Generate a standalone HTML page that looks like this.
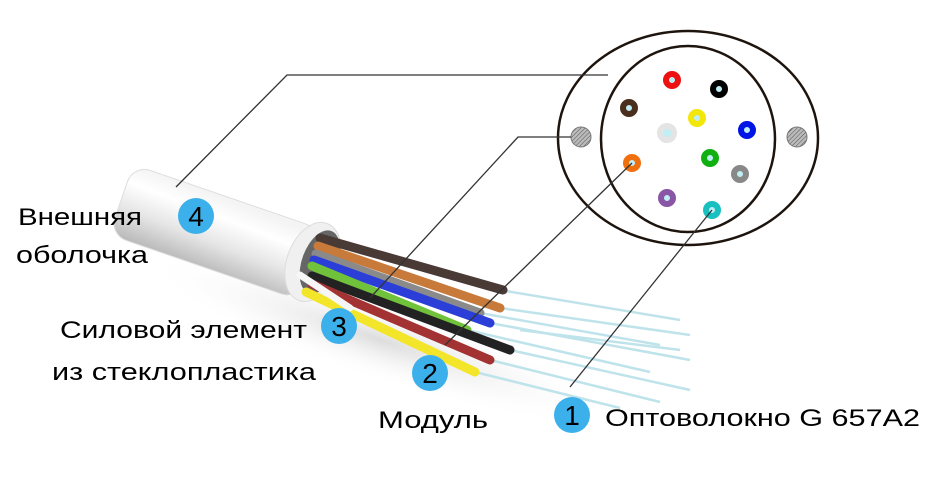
<!DOCTYPE html>
<html><head><meta charset="utf-8"><style>
html,body{margin:0;padding:0;background:#fff;}
svg{display:block;}
text{font-family:"Liberation Sans","Noto Sans CJK SC",sans-serif;fill:#000;}
</style></head><body>
<svg width="945" height="479" viewBox="0 0 945 479">
<defs>
<linearGradient id="tube" x1="0.1" y1="0" x2="0" y2="1">
<stop offset="0" stop-color="#f4f4f4"/><stop offset="0.25" stop-color="#ffffff"/><stop offset="0.6" stop-color="#e6e6e6"/><stop offset="1" stop-color="#b8b8b8"/>
</linearGradient>
<radialGradient id="sh" cx="0.5" cy="0.5" r="0.5"><stop offset="0" stop-color="#ddd"/><stop offset="1" stop-color="#fff" stop-opacity="0"/></radialGradient>
<pattern id="hatch" width="3" height="3" patternUnits="userSpaceOnUse" patternTransform="rotate(45)"><rect width="3" height="3" fill="#bbb"/><line x1="0" y1="0" x2="0" y2="3" stroke="#555" stroke-width="1"/></pattern>
</defs>
<ellipse cx="380" cy="340" rx="250" ry="40" fill="url(#sh)" transform="rotate(18 380 340)"/>
<g stroke="#bfe3ea" stroke-width="2.5">
<line x1="500" y1="290" x2="680" y2="320"/><line x1="500" y1="308" x2="690" y2="335"/>
<line x1="480" y1="313" x2="660" y2="345"/><line x1="490" y1="323" x2="690" y2="360"/>
<line x1="467" y1="330" x2="650" y2="372"/><line x1="510" y1="350" x2="690" y2="390"/>
<line x1="490" y1="360" x2="660" y2="402"/><line x1="475" y1="372" x2="620" y2="408"/>
<line x1="520" y1="330" x2="680" y2="350"/>
</g>
<g transform="rotate(19 230 237)">
<rect x="115" y="200" width="200" height="74" rx="18" fill="url(#tube)" stroke="#ddd" stroke-width="1"/>
</g>
<ellipse cx="313" cy="262" rx="26" ry="41" transform="rotate(20 313 262)" fill="#f0f0f0" stroke="#ddd"/>
<ellipse cx="320" cy="262" rx="18" ry="33" transform="rotate(20 320 262)" fill="#666"/>
<g stroke-linecap="round" stroke-width="9">
<line x1="320" y1="238" x2="503" y2="290" stroke="#4a3a36"/>
<line x1="318" y1="246" x2="500" y2="308" stroke="#c87a3a"/>
<line x1="316" y1="254" x2="480" y2="313" stroke="#8a8a8a"/>
<line x1="314" y1="260" x2="490" y2="323" stroke="#2b3fd8"/>
<line x1="312" y1="266" x2="467" y2="330" stroke="#6fc23a"/>
<line x1="312" y1="276" x2="510" y2="350" stroke="#222"/>
<line x1="312" y1="284" x2="490" y2="360" stroke="#a33232"/>
<line x1="306" y1="292" x2="475" y2="372" stroke="#f3e52a"/>
<line x1="300" y1="275" x2="350" y2="308" stroke="#f6f6f6" stroke-width="7"/>
</g>
<ellipse cx="688" cy="138" rx="130" ry="107" fill="#fff" stroke="#1e140e" stroke-width="2.5"/>
<ellipse cx="688" cy="139" rx="87" ry="93" fill="none" stroke="#1e140e" stroke-width="2.5"/>
<circle cx="581" cy="137" r="10" fill="url(#hatch)" stroke="#777"/>
<circle cx="797" cy="137" r="10" fill="url(#hatch)" stroke="#777"/>
<g stroke-width="6" fill="#bfeef5">
<circle cx="672" cy="80" r="6" stroke="#ee1111"/>
<circle cx="719" cy="89" r="6" stroke="#000"/>
<circle cx="629" cy="108" r="6" stroke="#4a2e1e"/>
<circle cx="697" cy="118" r="6" stroke="#f2e60a"/>
<circle cx="667" cy="133" r="7" stroke="#e4e4e4"/>
<circle cx="747" cy="130" r="6" stroke="#0015e6"/>
<circle cx="632" cy="163" r="6" stroke="#f07010"/>
<circle cx="710" cy="158" r="6" stroke="#10b010"/>
<circle cx="740" cy="174" r="6" stroke="#888"/>
<circle cx="667" cy="198" r="6" stroke="#8a55a5"/>
<circle cx="712" cy="210" r="6" stroke="#18c0c0"/>
</g>
<g stroke="#333" stroke-width="1.3" fill="none">
<polyline points="608,75 287,75 176,187"/>
<polyline points="571,137 518,137 370,298"/>
<line x1="632" y1="163" x2="445" y2="345"/>
<line x1="712" y1="210" x2="570" y2="387"/>
</g>
<g fill="#3bb0ea">
<circle cx="196" cy="216" r="18"/><circle cx="339" cy="326" r="18"/>
<circle cx="430" cy="373" r="18"/><circle cx="572" cy="415" r="18"/>
</g>
<g font-size="28" text-anchor="middle">
<text x="196" y="226">4</text><text x="339" y="336">3</text>
<text x="430" y="383">2</text><text x="572" y="425">1</text>
</g>
<g font-size="24">
<text x="18" y="225" textLength="124" lengthAdjust="spacingAndGlyphs">Внешняя</text>
<text x="16" y="263" textLength="132" lengthAdjust="spacingAndGlyphs">оболочка</text>
<text x="60" y="338" textLength="247" lengthAdjust="spacingAndGlyphs">Силовой элемент</text>
<text x="52" y="380" textLength="264" lengthAdjust="spacingAndGlyphs">из стеклопластика</text>
<text x="378" y="428" textLength="110" lengthAdjust="spacingAndGlyphs">Модуль</text>
<text x="605" y="426" textLength="315" lengthAdjust="spacingAndGlyphs">Оптоволокно G 657A2</text>
</g>
</svg>
</body></html>
